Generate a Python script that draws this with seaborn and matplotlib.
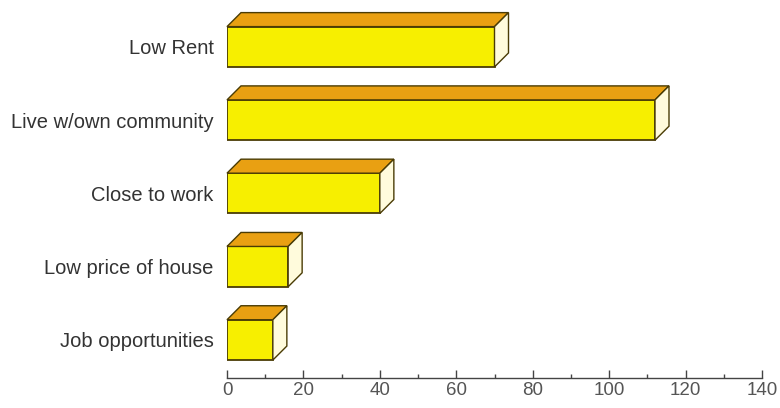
import matplotlib
matplotlib.use("Agg")
import matplotlib.pyplot as plt
from matplotlib.patches import Polygon
from matplotlib.ticker import MultipleLocator
import seaborn as sns
import pandas as pd

categories = ["Low Rent", "Live w/own community", "Close to work",
              "Low price of house", "Job opportunities"]
counts = [70, 112, 40, 16, 12]

df = pd.DataFrame({"reason": categories, "count": counts})

sns.set_style("white")
plt.rcParams["font.family"] = ["Liberation Sans", "DejaVu Sans"]

FRONT = "#f7ef00"
TOP = "#e9a012"
SIDE = "#fffbdc"
EDGE = "#4a3c05"

fig = plt.figure(figsize=(7.8, 4.08), dpi=100)
ax = fig.add_axes([227 / 780, 30 / 408, 535 / 780, 373 / 408])

sns.barplot(data=df, x="count", y="reason", orient="h", color=FRONT,
            width=0.55, edgecolor=EDGE, linewidth=1.3, saturation=1, ax=ax)

ax.set_xlim(0, 140)
ax.set_ylim(4.52, -0.57)

# depth of the extruded faces, 14 px right and 14 px up
ax_w_px, ax_h_px = 535.0, 373.0
dx = 14 * 140 / ax_w_px
dy = 14 * (4.52 + 0.57) / ax_h_px

for p in list(ax.patches):
    x0, y0, w, h = p.get_x(), p.get_y(), p.get_width(), p.get_height()
    top = Polygon([(x0, y0), (x0 + w, y0), (x0 + w + dx, y0 - dy), (x0 + dx, y0 - dy)],
                  closed=True, facecolor=TOP, edgecolor=EDGE, linewidth=1.0,
                  clip_on=False, zorder=p.get_zorder())
    side = Polygon([(x0 + w, y0), (x0 + w, y0 + h), (x0 + w + dx, y0 + h - dy),
                    (x0 + w + dx, y0 - dy)],
                   closed=True, facecolor=SIDE, edgecolor=EDGE, linewidth=1.0,
                   clip_on=False, zorder=p.get_zorder())
    ax.add_patch(top)
    ax.add_patch(side)

ax.set_xlabel("")
ax.set_ylabel("")
for s in ("left", "top", "right"):
    ax.spines[s].set_visible(False)
ax.spines["bottom"].set_color("#444444")
ax.spines["bottom"].set_linewidth(1.0)

ax.xaxis.set_major_locator(MultipleLocator(20))
ax.xaxis.set_minor_locator(MultipleLocator(10))
ax.tick_params(axis="x", which="major", direction="in", length=6, width=1.0,
               color="#444444", labelsize=13.5, labelcolor="#555555", pad=3,
               bottom=True)
ax.tick_params(axis="x", which="minor", direction="in", length=3, width=1.0,
               color="#444444", bottom=True)
ax.tick_params(axis="y", length=0, pad=9.5, labelsize=14.5, labelcolor="#333333")

fig.savefig("out.png", dpi=100)
